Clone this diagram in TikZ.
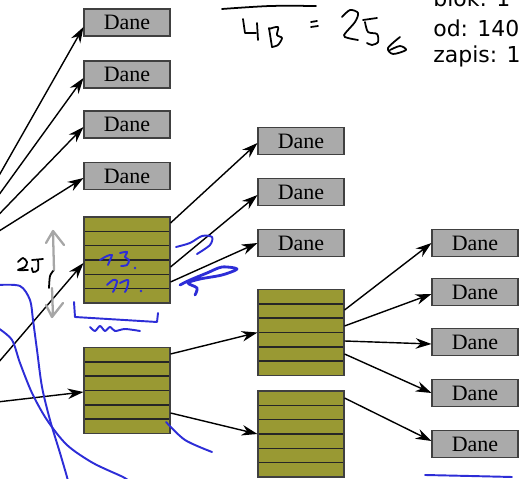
\documentclass[tikz,border=0pt]{standalone}
\usepackage{fontspec}
\usepackage{xcolor}
\usepackage{tikz}
\usetikzlibrary{arrows.meta, positioning}
\newfontfamily\notefont{DejaVu Sans}
\newfontfamily\danefont{Liberation Serif}
\definecolor{daneGray}{RGB}{170,170,170}
\definecolor{blokOlive}{RGB}{153,153,51}
\definecolor{penBlue}{RGB}{45,45,215}

\begin{document}
\begin{tikzpicture}[x=0.02cm,y=-0.02cm,
    dane/.style={draw=black!75,fill=daneGray,semithick,minimum width=1.72cm,
      minimum height=0.54cm,inner sep=0pt,font=\danefont\fontsize{12.5}{13}\selectfont},
    blok/.style={draw=black!75,fill=blokOlive,semithick,minimum width=1.72cm,
      minimum height=1.72cm,inner sep=0pt,
      path picture={\foreach \i in {1,...,5}
        \draw[black!85,thick] ([yshift=-\i*0.2867cm]path picture bounding box.north west)
          -- ([yshift=-\i*0.2867cm]path picture bounding box.north east);}},
    ink/.style={black,line width=1pt,line cap=round,line join=round},
    pen/.style={penBlue,line width=1.1pt,line cap=round,line join=round}]
  \useasboundingbox (0,0) rectangle (521,479);
  \clip (0,0) rectangle (521,479);

  % first column
  \node[dane] (d1) at (127,22.5) {Dane};
  \node[dane] (d2) at (127,74.5) {Dane};
  \node[dane] (d3) at (127,124.5) {Dane};
  \node[dane] (d4) at (127,176) {Dane};
  \node[blok] (A) at (127,260) {};
  \node[blok] (B) at (127,390.5) {};
  % second column
  \node[dane] (f1) at (301,141) {Dane};
  \node[dane] (f2) at (301,192) {Dane};
  \node[dane] (f3) at (301,243) {Dane};
  \node[blok] (C) at (301,332.5) {};
  \node[blok] (D) at (301,434) {};
  % third column
  \node[dane] (e1) at (475,243) {Dane};
  \node[dane] (e2) at (475,292) {Dane};
  \node[dane] (e3) at (475,342) {Dane};
  \node[dane] (e4) at (475,393) {Dane};
  \node[dane] (e5) at (475,444) {Dane};

  % loose ends off the left side
  \coordinate (s1) at (-20,209);
  \coordinate (s2) at (-20,221);
  \coordinate (s3) at (-20,234);
  \coordinate (s4) at (-20,243);
  \coordinate (s5) at (-20,384);
  \coordinate (s6) at (-20,404);

  \begin{scope}[every edge/.style={draw=black,thick,-{Stealth[length=9pt,width=6pt]}}]
    \path (s1) edge ([yshift=-0.09cm]d1.west);
    \path (s2) edge ([yshift=-0.07cm]d2.west);
    \path (s3) edge ([yshift=-0.05cm]d3.west);
    \path (s4) edge ([yshift=-0.04cm]d4.west);
    \path (s5) edge ([yshift=-0.06cm]A.west);
    \path (s6) edge ([yshift=-0.03cm]B.west);
    \path ([yshift=0.74cm]A.east) edge ([yshift=-0.04cm]f1.west);
    \path ([yshift=-0.14cm]A.east) edge ([yshift=-0.06cm]f2.west);
    \path ([yshift=-0.44cm]A.east) edge (f3.west);
    \path ([yshift=0.73cm]B.east) edge (C.west);
    \path ([yshift=-0.45cm]B.east) edge (D.west);
    \path ([yshift=0.45cm]C.east) edge (e1.west);
    \path ([yshift=0.13cm]C.east) edge ([yshift=-0.04cm]e2.west);
    \path ([yshift=-0.17cm]C.east) edge ([yshift=-0.04cm]e3.west);
    \path ([yshift=-0.43cm]C.east) edge (e4.west);
    \path ([yshift=0.72cm]D.east) edge ([yshift=0.06cm]e5.west);
  \end{scope}

  % typed notes top right
  \begin{scope}[every node/.style={anchor=base west,inner sep=0pt,
      font=\notefont\fontsize{12.5}{14}\selectfont}]
    \node (blok) at (433,7) {blok: 1};
    \node (od) at (433,37) {od: 140};
    \node (zapis) at (433,63) {zapis: 1};
  \end{scope}

  % handwriting, black
  \draw[ink] plot[smooth] coordinates {(222,9) (270,6) (316,6)};
  \draw[ink] (243,19) -- (245,33) -- (256,33);
  \draw[ink] (257,23) -- (258,40);
  \draw[ink] plot[smooth] coordinates {(269,28) (272,47)};
  \draw[ink] plot[smooth] coordinates {(269,29) (278,27) (277,35) (282,38) (278,45) (272,47)};
  \draw[ink] (311,22) -- (317,21);
  \draw[ink] (311,27) -- (318,26);
  \draw[ink] plot[smooth] coordinates {(342,17) (350,10) (358,13) (355,22) (344,35) (348,38) (358,40)};
  \draw[ink] (363,20) -- (377,18);
  \draw[ink] plot[smooth] coordinates {(365,22) (368,32) (377,34) (378,42) (372,45) (367,43)};
  \draw[ink] plot[smooth] coordinates {(400,37) (388,48) (393,54) (406,50) (400,46) (390,50)};
  \draw[ink] plot[smooth] coordinates {(18,262) (23,258) (27,262) (25,267) (18,270) (28,270)};
  \draw[ink] (32,260) -- (43,259);
  \draw[ink] plot[smooth] coordinates {(38,260) (38,270) (33,272) (32,268)};
  \draw[ink] plot[smooth] coordinates {(54,270) (50,276) (49,288)};
  % gray double arrow
  \draw[gray!70,line width=1.3pt,line cap=round,line join=round]
    (53,232) -- (54,270) (52,288) -- (53,316)
    (46,243) -- (53,231) -- (64,245)
    (46,305) -- (52,317) -- (63,303);

  % handwriting, blue
  \draw[pen] plot[smooth] coordinates {(-2,285) (20,286) (30,300) (33,320) (37,350) (42,387) (50,420) (60,453) (67,477) (68,482)};
  \draw[pen] plot[smooth] coordinates {(-2,328) (12,340) (20,363) (32,393) (47,420) (67,445) (93,463) (123,477) (130,482)};
  \draw[pen] (74,302) -- (75,317) -- (157,322) -- (158,313);
  \draw[pen] plot[smooth] coordinates {(90,327) (95,331) (100,326) (105,331) (110,327) (115,331) (125,329) (140,331)};
  \draw[pen] plot[smooth] coordinates {(100,260) (107,256) (112,255) (110,260) (108,265)};
  \draw[pen] plot[smooth] coordinates {(120,253) (127,252) (125,257) (129,260) (127,265) (121,266)};
  \fill[penBlue] (135,268) circle (1.3);
  \draw[pen] plot[smooth] coordinates {(107,285) (113,280) (117,281) (115,288) (113,292)};
  \draw[pen] plot[smooth] coordinates {(120,283) (128,280) (127,288) (125,292)};
  \fill[penBlue] (141,291) circle (1.3);
  \draw[pen] plot[smooth] coordinates {(176,247) (190,243) (202,236) (212,237) (210,245) (197,254)};
  \draw[pen,line width=1.6pt] plot[smooth] coordinates {(180,285) (190,280) (207,273) (222,267) (237,269) (222,275) (200,279) (188,283) (197,288) (195,295)};
  \draw[pen] plot[smooth] coordinates {(166,422) (185,440) (212,452)};
  \draw[pen] plot[smooth] coordinates {(425,475) (470,476) (512,477)};
\end{tikzpicture}
\end{document}
